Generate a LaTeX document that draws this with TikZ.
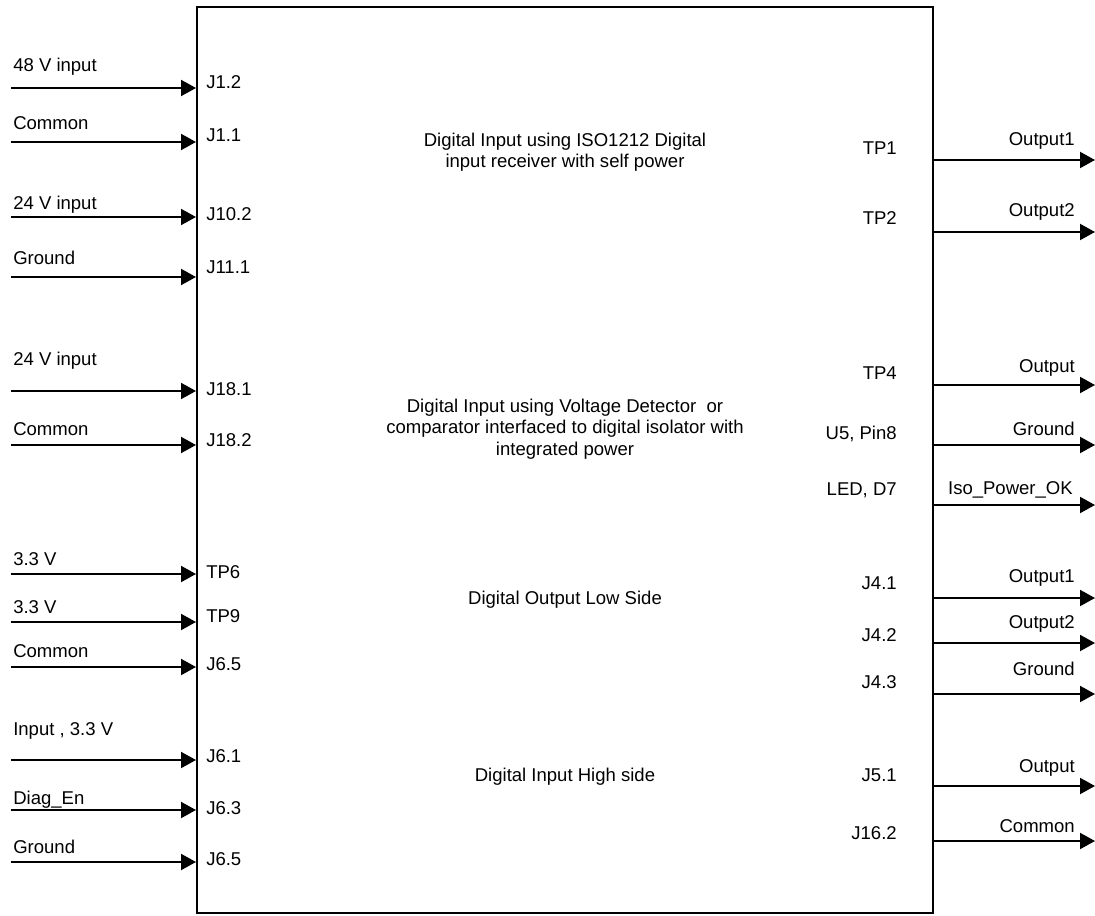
\documentclass[tikz,border=0pt]{standalone}
\usepackage{fontspec}
\setmainfont{Liberation Sans}
\usetikzlibrary{arrows.meta, positioning, fit}

\begin{document}
\begin{tikzpicture}[
    x=0.75pt, y=-0.75pt,
    font=\fontsize{13.9}{16}\selectfont,
    board/.style={rectangle, draw, line width=1.5pt, inner sep=0pt},
    sig/.style={inner sep=0pt, anchor=base west},
    outsig/.style={inner sep=0pt, anchor=base east},
    pinlabel/.style={inner sep=0pt, anchor=base west},
    outpin/.style={inner sep=0pt, anchor=base east},
    function/.style={inner sep=0pt, align=center},
    arrow/.style={line width=1.5pt, -{Triangle[length=11.25pt, width=12pt]}}
]
\useasboundingbox (0,0) rectangle (1095,916);

\node (board) [board, fit={(197,7) (933,913)}] {};

% functions inside the board
\node (fn1) [function] at (565,152) {Digital Input using ISO1212 Digital\\input receiver with self power};
\node (fn2) [function] at (565,429) {Digital Input using Voltage Detector\ \ or\\comparator interfaced to digital isolator with\\integrated power};
\node (fn3) [function] at (565,600) {Digital Output Low Side};
\node (fn4) [function] at (565,777) {Digital Input High side};

% inputs
\coordinate (in1) at (11,88);
\coordinate (in2) at (11,142);
\coordinate (in3) at (11,217);
\coordinate (in4) at (11,277);
\coordinate (in5) at (11,391);
\coordinate (in6) at (11,445);
\coordinate (in7) at (11,574);
\coordinate (in8) at (11,622);
\coordinate (in9) at (11,667);
\coordinate (in10) at (11,760);
\coordinate (in11) at (11,810);
\coordinate (in12) at (11,862);

\node (sin1) [sig] at (13,72) {48 V input};
\node (sin2) [sig] at (13,130) {Common};
\node (sin3) [sig] at (13,210) {24 V input};
\node (sin4) [sig] at (13,264) {Ground};
\node (sin5) [sig] at (13,365) {24 V input};
\node (sin6) [sig] at (13,435) {Common};
\node (sin7) [sig] at (13,565) {3.3 V};
\node (sin8) [sig] at (13,613) {3.3 V};
\node (sin9) [sig] at (13,657) {Common};
\node (sin10) [sig] at (13,735) {Input , 3.3 V};
\node (sin11) [sig] at (13,804) {Diag\_En};
\node (sin12) [sig] at (13,853) {Ground};

\node (pin1) [pinlabel] at (206,89) {J1.2};
\node (pin2) [pinlabel] at (206,142) {J1.1};
\node (pin3) [pinlabel] at (206,221) {J10.2};
\node (pin4) [pinlabel] at (206,273) {J11.1};
\node (pin5) [pinlabel] at (206,395) {J18.1};
\node (pin6) [pinlabel] at (206,446) {J18.2};
\node (pin7) [pinlabel] at (206,578) {TP6};
\node (pin8) [pinlabel] at (206,622) {TP9};
\node (pin9) [pinlabel] at (206,670) {J6.5};
\node (pin10) [pinlabel] at (206,762) {J6.1};
\node (pin11) [pinlabel] at (206,814) {J6.3};
\node (pin12) [pinlabel] at (206,865) {J6.5};

% outputs
\coordinate (out1) at (1095,160);
\coordinate (out2) at (1095,232);
\coordinate (out3) at (1095,385);
\coordinate (out4) at (1095,445);
\coordinate (out5) at (1095,505);
\coordinate (out6) at (1095,598);
\coordinate (out7) at (1095,643);
\coordinate (out8) at (1095,694);
\coordinate (out9) at (1095,786);
\coordinate (out10) at (1095,841);

\node (sout1) [outsig] at (1075,146) {Output1};
\node (sout2) [outsig] at (1075,217) {Output2};
\node (sout3) [outsig] at (1075,372) {Output};
\node (sout4) [outsig] at (1075,435) {Ground};
\node (sout5) [outsig] at (1073,494) {Iso\_Power\_OK};
\node (sout6) [outsig] at (1075,582) {Output1};
\node (sout7) [outsig] at (1075,628) {Output2};
\node (sout8) [outsig] at (1075,675) {Ground};
\node (sout9) [outsig] at (1075,772) {Output};
\node (sout10) [outsig] at (1075,832) {Common};

\node (tp1) [outpin] at (897,155) {TP1};
\node (tp2) [outpin] at (897,225) {TP2};
\node (tp3) [outpin] at (897,379) {TP4};
\node (tp4) [outpin] at (897,439) {U5, Pin8};
\node (tp5) [outpin] at (897,495) {LED, D7};
\node (tp6) [outpin] at (897,589) {J4.1};
\node (tp7) [outpin] at (897,641) {J4.2};
\node (tp8) [outpin] at (897,688) {J4.3};
\node (tp9) [outpin] at (897,781) {J5.1};
\node (tp10) [outpin] at (897,839) {J16.2};

\draw[arrow] (in1) -- (in1 -| board.west);
\draw[arrow] (in2) -- (in2 -| board.west);
\draw[arrow] (in3) -- (in3 -| board.west);
\draw[arrow] (in4) -- (in4 -| board.west);
\draw[arrow] (in5) -- (in5 -| board.west);
\draw[arrow] (in6) -- (in6 -| board.west);
\draw[arrow] (in7) -- (in7 -| board.west);
\draw[arrow] (in8) -- (in8 -| board.west);
\draw[arrow] (in9) -- (in9 -| board.west);
\draw[arrow] (in10) -- (in10 -| board.west);
\draw[arrow] (in11) -- (in11 -| board.west);
\draw[arrow] (in12) -- (in12 -| board.west);

\draw[arrow] (out1 -| board.east) -- (out1);
\draw[arrow] (out2 -| board.east) -- (out2);
\draw[arrow] (out3 -| board.east) -- (out3);
\draw[arrow] (out4 -| board.east) -- (out4);
\draw[arrow] (out5 -| board.east) -- (out5);
\draw[arrow] (out6 -| board.east) -- (out6);
\draw[arrow] (out7 -| board.east) -- (out7);
\draw[arrow] (out8 -| board.east) -- (out8);
\draw[arrow] (out9 -| board.east) -- (out9);
\draw[arrow] (out10 -| board.east) -- (out10);

\end{tikzpicture}
\end{document}
